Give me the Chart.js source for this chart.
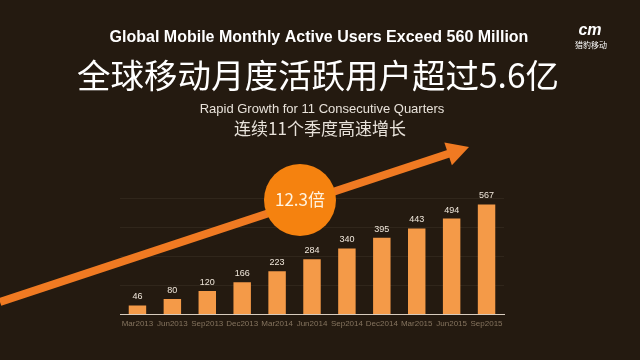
<!DOCTYPE html>
<html>
<head>
<meta charset="utf-8">
<script src="https://cdn.jsdelivr.net/npm/chart.js@4/dist/chart.umd.min.js"></script>
<style>
html,body{margin:0;padding:0;background:#241a10;}
#wrap{width:640px;height:360px;position:relative;}
</style>
</head>
<body>
<div id="wrap"><canvas id="c" width="640" height="360"></canvas></div>
<script>
const categories = ["Mar2013","Jun2013","Sep2013","Dec2013","Mar2014","Jun2014","Sep2014","Dec2014","Mar2015","Jun2015","Sep2015"];
const users = [46, 80, 120, 166, 223, 284, 340, 395, 443, 494, 567];
const titleEn = "Global Mobile Monthly Active Users Exceed 560 Million";
const titleZh = "全球移动月度活跃用户超过5.6亿";
const subEn = "Rapid Growth for 11 Consecutive Quarters";
const subZh = "连续11个季度高速增长";
const badge = "12.3倍";
const logoText = "猎豹移动";

const BG = "#241a10";
const FONT = "'Liberation Sans', Arial, sans-serif";
const CJK = "'Noto Sans CJK SC', 'Liberation Sans', sans-serif";

const bgPlugin = {
  id: 'bg',
  beforeDraw(chart) {
    const ctx = chart.ctx;
    ctx.save();
    ctx.fillStyle = BG;
    ctx.fillRect(0, 0, chart.width, chart.height);
    ctx.restore();
  }
};

const decoPlugin = {
  id: 'deco',
  afterDatasetsDraw(chart) {
    const ctx = chart.ctx;
    const meta = chart.getDatasetMeta(0);
    ctx.save();
    // value labels
    ctx.fillStyle = "#efe6da";
    ctx.font = "9px " + FONT;
    ctx.textAlign = "center";
    ctx.textBaseline = "bottom";
    meta.data.forEach((bar, i) => {
      ctx.fillText(String(users[i]), bar.x, bar.y - 4);
    });
    // arrow
    const x0 = 0, y0 = 302, x1 = 469, y1 = 147;
    const ang = Math.atan2(y1 - y0, x1 - x0);
    const headLen = 22, headW = 12;
    const bx = x1 - headLen * Math.cos(ang), by = y1 - headLen * Math.sin(ang);
    ctx.strokeStyle = "#f07a22";
    ctx.lineWidth = 8;
    ctx.lineCap = "butt";
    ctx.beginPath();
    ctx.moveTo(x0, y0);
    ctx.lineTo(bx + 2 * Math.cos(ang), by + 2 * Math.sin(ang));
    ctx.stroke();
    ctx.fillStyle = "#f07a22";
    ctx.beginPath();
    ctx.moveTo(x1, y1);
    ctx.lineTo(bx + headW * Math.sin(ang), by - headW * Math.cos(ang));
    ctx.lineTo(bx - headW * Math.sin(ang), by + headW * Math.cos(ang));
    ctx.closePath();
    ctx.fill();
    // badge circle
    ctx.fillStyle = "#f5820f";
    ctx.beginPath();
    ctx.arc(300, 200, 36, 0, Math.PI * 2);
    ctx.fill();
    ctx.fillStyle = "#fff4e2";
    ctx.font = "17px " + CJK;
    ctx.textAlign = "center";
    ctx.textBaseline = "middle";
    ctx.fillText(badge, 300, 200);
    // titles
    ctx.fillStyle = "#ffffff";
    ctx.font = "bold 16px " + FONT;
    ctx.textBaseline = "middle";
    ctx.fillText(titleEn, 319, 38);
    ctx.font = "33.5px " + CJK;
    ctx.fillText(titleZh, 318, 75);
    ctx.fillStyle = "#e8e2da";
    ctx.font = "13px " + FONT;
    ctx.fillText(subEn, 322, 109);
    ctx.font = "17px " + CJK;
    ctx.fillText(subZh, 320, 129);
    // logo
    ctx.fillStyle = "#ffffff";
    ctx.font = "italic bold 16px " + FONT;
    ctx.fillText("cm", 590, 31);
    ctx.font = "8px " + CJK;
    ctx.fillText(logoText, 591, 45);
    ctx.restore();
  }
};

new Chart(document.getElementById('c'), {
  type: 'bar',
  data: {
    labels: categories,
    datasets: [{
      data: users,
      backgroundColor: "#f49a48",
      borderWidth: 0,
      categoryPercentage: 1,
      barPercentage: 0.5
    }]
  },
  options: {
    responsive: false,
    animation: false,
    devicePixelRatio: 1,
    layout: { padding: { left: 120, right: 136, top: 198, bottom: 26 } },
    plugins: { legend: { display: false }, tooltip: { enabled: false } },
    scales: {
      x: {
        grid: { display: false, drawTicks: false },
        border: { display: true, color: "#d8ccbe", width: 1 },
        ticks: { color: "#85745f", font: { size: 8, family: FONT }, padding: 5, maxRotation: 0, autoSkip: false }
      },
      y: {
        min: 0, max: 600,
        ticks: { display: false, stepSize: 150 },
        grid: { color: "#30261b", drawTicks: false },
        border: { display: false }
      }
    }
  },
  plugins: [bgPlugin, decoPlugin]
});
</script>
</body>
</html>
